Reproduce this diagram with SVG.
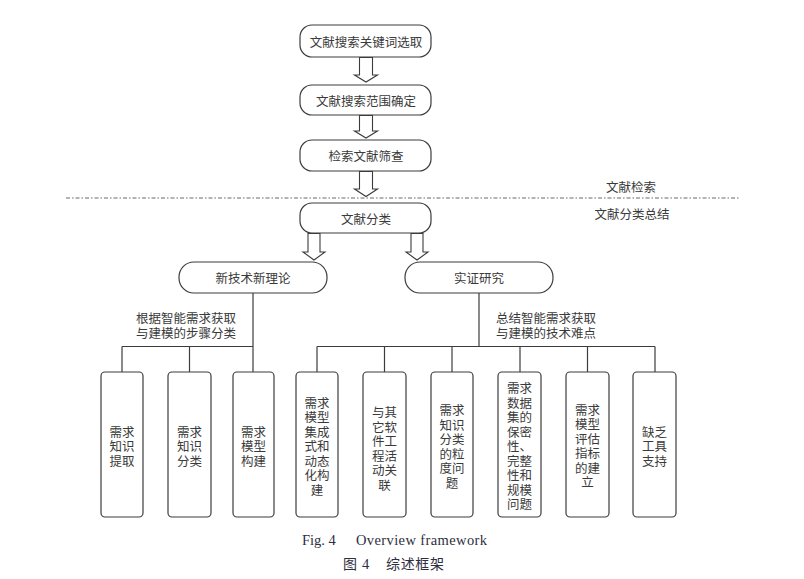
<svg xmlns="http://www.w3.org/2000/svg" width="804" height="579" viewBox="0 0 804 579">
<style>
.n{fill:#fff;stroke:#3c3c3c;stroke-width:1.2}
.t{font-family:"Noto Sans CJK SC","Noto Sans",sans-serif;font-size:12.5px;fill:#3a3a3a;text-anchor:middle;dominant-baseline:central}
.c{fill:none;stroke:#3c3c3c;stroke-width:1.2}
.ar{fill:#fff;stroke:#3c3c3c;stroke-width:1.1;stroke-linejoin:miter}
.dash{stroke:#6a6a6a;stroke-width:1.2;stroke-dasharray:4 2 1.5 2;fill:none}
.cap{font-family:"Liberation Serif",serif;font-size:14.5px;fill:#2e2e3e}
.capz{font-family:"Noto Sans CJK SC",sans-serif;font-size:14px;fill:#2e2e3e}
</style>
<rect width="804" height="579" fill="#fff"/>

<g id="connectors">
<line class="dash" x1="66" y1="198" x2="740" y2="198"/>
<path class="ar" d="M359.5,57.5 V75 H354.5 L366,82 L377.5,75 H372.5 V57.5 Z"/>
<path class="ar" d="M359.5,115.5 V131 H354.5 L366,138 L377.5,131 H372.5 V115.5 Z"/>
<path class="ar" d="M359.5,171.5 V189 H354.5 L366,196.5 L377.5,189 H372.5 V171.5 Z"/>
<path class="ar" d="M308,233.5 V252 H303 L314,260 L325,252 H320 V233.5 Z"/>
<path class="ar" d="M411,233.5 V252 H406 L417,260 L428,252 H423 V233.5 Z"/>
<path class="c" d="M253,293 V372 M122,346.5 H253 M122,346.5 V372 M189.5,346.5 V372"/>
<path class="c" d="M479,293 V346.5 M317,346.5 H655 M317,346.5 V372 M384.5,346.5 V372 M452,346.5 V372 M520,346.5 V372 M587.5,346.5 V372 M655,346.5 V372"/>
</g>

<g id="label-retrieval"><text class="t" x="631" y="186">文献检索</text></g>
<g id="label-summary"><text class="t" x="632" y="213">文献分类总结</text></g>

<g id="n1"><rect class="n" x="300" y="25" width="131" height="32" rx="12"/><text class="t" x="366" y="41">文献搜索关键词选取</text></g>
<g id="n2"><rect class="n" x="300" y="85" width="131" height="30" rx="12"/><text class="t" x="366" y="100">文献搜索范围确定</text></g>
<g id="n3"><rect class="n" x="300" y="140" width="131" height="31" rx="12"/><text class="t" x="366" y="155.5">检索文献筛查</text></g>
<g id="n4"><rect class="n" x="300" y="203" width="131" height="30" rx="12"/><text class="t" x="366" y="218">文献分类</text></g>
<g id="n5"><rect class="n" x="179" y="262" width="148" height="31" rx="15"/><text class="t" x="253" y="277.5">新技术新理论</text></g>
<g id="n6"><rect class="n" x="405" y="262" width="148" height="31" rx="15"/><text class="t" x="479" y="277.5">实证研究</text></g>

<g id="label-left"><text class="t" y="317"><tspan x="186">根据智能需求获取</tspan><tspan x="186" dy="15">与建模的步骤分类</tspan></text></g>
<g id="label-right"><text class="t" y="317"><tspan x="546">总结智能需求获取</tspan><tspan x="546" dy="15">与建模的技术难点</tspan></text></g>

<g id="b1"><rect class="n" x="101" y="372" width="42" height="145" rx="4"/>
<text class="t" y="430.5"><tspan x="122">需求</tspan><tspan x="122" dy="14.5">知识</tspan><tspan x="122" dy="14.5">提取</tspan></text></g>
<g id="b2"><rect class="n" x="168" y="372" width="43" height="145" rx="4"/>
<text class="t" y="430.5"><tspan x="189.5">需求</tspan><tspan x="189.5" dy="14.5">知识</tspan><tspan x="189.5" dy="14.5">分类</tspan></text></g>
<g id="b3"><rect class="n" x="233" y="372" width="41" height="145" rx="4"/>
<text class="t" y="430.5"><tspan x="253.5">需求</tspan><tspan x="253.5" dy="14.5">模型</tspan><tspan x="253.5" dy="14.5">构建</tspan></text></g>

<g id="b4"><rect class="n" x="296" y="372" width="42" height="145" rx="4"/>
<text class="t" y="401.5"><tspan x="317">需求</tspan><tspan x="317" dy="14.5">模型</tspan><tspan x="317" dy="14.5">集成</tspan><tspan x="317" dy="14.5">式和</tspan><tspan x="317" dy="14.5">动态</tspan><tspan x="317" dy="14.5">化构</tspan><tspan x="317" dy="14.5">建</tspan></text></g>
<g id="b5"><rect class="n" x="363" y="372" width="43" height="145" rx="4"/>
<text class="t" y="411"><tspan x="384.5">与其</tspan><tspan x="384.5" dy="14.5">它软</tspan><tspan x="384.5" dy="14.5">件工</tspan><tspan x="384.5" dy="14.5">程活</tspan><tspan x="384.5" dy="14.5">动关</tspan><tspan x="384.5" dy="14.5">联</tspan></text></g>
<g id="b6"><rect class="n" x="431" y="372" width="42" height="145" rx="4"/>
<text class="t" y="409"><tspan x="452">需求</tspan><tspan x="452" dy="14.5">知识</tspan><tspan x="452" dy="14.5">分类</tspan><tspan x="452" dy="14.5">的粒</tspan><tspan x="452" dy="14.5">度问</tspan><tspan x="452" dy="14.5">题</tspan></text></g>
<g id="b7"><rect class="n" x="498" y="372" width="43" height="145" rx="4"/>
<text class="t" y="387"><tspan x="519.5">需求</tspan><tspan x="519.5" dy="14.5">数据</tspan><tspan x="519.5" dy="14.5">集的</tspan><tspan x="519.5" dy="14.5">保密</tspan><tspan x="519.5" dy="14.5">性、</tspan><tspan x="519.5" dy="14.5">完整</tspan><tspan x="519.5" dy="14.5">性和</tspan><tspan x="519.5" dy="14.5">规模</tspan><tspan x="519.5" dy="14.5">问题</tspan></text></g>
<g id="b8"><rect class="n" x="566" y="372" width="43" height="145" rx="4"/>
<text class="t" y="408.5"><tspan x="587.5">需求</tspan><tspan x="587.5" dy="14.5">模型</tspan><tspan x="587.5" dy="14.5">评估</tspan><tspan x="587.5" dy="14.5">指标</tspan><tspan x="587.5" dy="14.5">的建</tspan><tspan x="587.5" dy="14.5">立</tspan></text></g>
<g id="b9"><rect class="n" x="633" y="372" width="43" height="145" rx="4"/>
<text class="t" y="430.5"><tspan x="654.5">缺乏</tspan><tspan x="654.5" dy="14.5">工具</tspan><tspan x="654.5" dy="14.5">支持</tspan></text></g>

<g id="caption">
<text class="cap" x="302" y="545">Fig. 4</text>
<text class="cap" x="356" y="545" textLength="131" lengthAdjust="spacing">Overview framework</text>
<text class="capz" x="343" y="568.5">图</text>
<text class="cap" x="362" y="568.5">4</text>
<text class="capz" x="386" y="568.5" textLength="58" lengthAdjust="spacing">综述框架</text>
</g>
</svg>
